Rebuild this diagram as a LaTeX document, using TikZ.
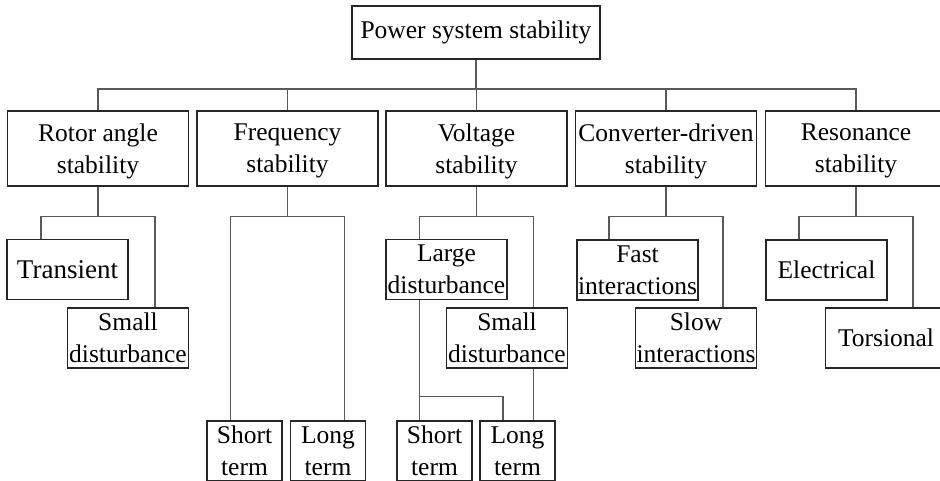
\documentclass[tikz,border=0pt]{standalone}
\usepackage{fontspec}
\setmainfont{Liberation Serif}

\begin{document}
\begin{tikzpicture}[x=1pt, y=-1pt,
        font=\fontsize{25.5}{32}\selectfont,
        box/.style={draw=black!85, line width=1.2pt, align=center, inner sep=0pt, minimum height=60pt},
        branch/.style={box, text depth=0pt, minimum width=181pt, minimum height=75pt},
        leaf/.style={box, text depth=0pt, minimum width=121pt},
        termbox/.style={box, text depth=0pt, minimum width=75pt},
        link/.style={draw=black!65, line width=1.2pt}]
            \useasboundingbox (0,0) rectangle (940,480);
            \node[box, minimum width=248pt, minimum height=53pt] (root) at (476, 32.5) {Power system stability};
            % second level
            \node[branch] (rotor) at (98, 148.5) {Rotor angle\\stability};
            \node[branch] (freq) at (287.5, 148.5) {Frequency\\stability};
            \node[branch] (volt) at (476.5, 148.5) {Voltage\\stability};
            \node[branch] (conv) at (666, 148.5) {Converter-driven\\stability};
            \node[branch] (reso) at (856, 148.5) {Resonance\\stability};
            % third level
            \node[leaf, font=\fontsize{27}{32}\selectfont] (trans) at (67.5, 269.5) {Transient};
            \node[leaf] (rsmall) at (128, 338) {Small\\disturbance};
            \node[termbox] (fshort) at (244.5, 451) {Short\\term};
            \node[termbox] (flong) at (328, 451) {Long\\term};
            \node[leaf] (large) at (446.5, 269.5) {Large\\disturbance};
            \node[leaf] (vsmall) at (507, 338) {Small\\disturbance};
            \node[termbox] (vshort) at (434.5, 451) {Short\\term};
            \node[termbox] (vlong) at (517.5, 451) {Long\\term};
            \node[leaf] (fast) at (637.5, 270) {Fast\\interactions};
            \node[leaf] (slow) at (696, 338) {Slow\\interactions};
            \node[leaf] (elec) at (826.5, 270) {Electrical};
            \node[leaf] (tors) at (886, 338) {Torsional};
            % bus below the root
            \coordinate (bus) at (0, 89);
            \draw[link] (root) -- (root |- bus);
            \draw[link] (rotor.north) -- (rotor.north |- bus) -- (reso.north |- bus) -- (reso.north);
            \foreach \n in {freq, volt, conv}
                \draw[link] (\n.north) -- (\n.north |- bus);
            % forks below each branch
            \foreach \p/\l/\r in {rotor/trans/rsmall, freq/fshort/flong, volt/large/vsmall, conv/fast/slow, reso/elec/tors} {
                \draw[link] (\p.south) -- ++(0, 30) coordinate (\p-fork);
                \coordinate (\p-l) at ([xshift=-57pt]\p-fork);
                \coordinate (\p-r) at ([xshift=57pt]\p-fork);
                \draw[link] (\l.north -| \p-l) -- (\p-l) -- (\p-r) -- (\r.north -| \p-r);
            }
            % voltage goes one level further
            \draw[link] (large.south -| volt-l) -- (vshort.north -| volt-l);
            \coordinate (vjoin) at (vshort.north -| volt-l);
            \draw[link] (vjoin) ++(0, -24) -| ([xshift=-14.5pt]vlong.north);
            \draw[link] (vsmall.south -| volt-r) -- (vlong.north -| volt-r);
        \end{tikzpicture}
\end{document}
